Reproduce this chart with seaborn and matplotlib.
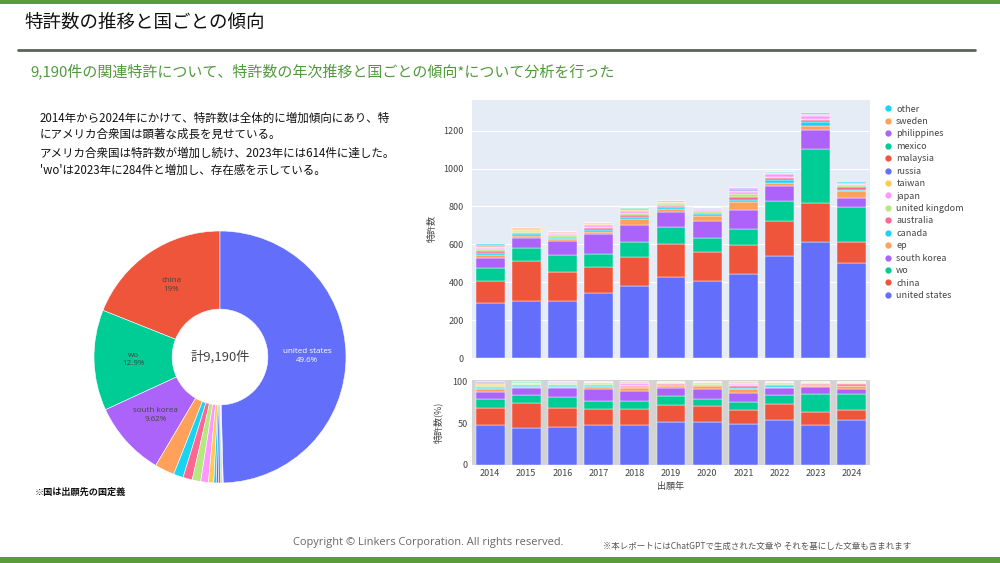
import numpy as np
import pandas as pd
import seaborn as sns
import matplotlib.pyplot as plt
from matplotlib.lines import Line2D
from matplotlib.patches import Rectangle

# patent counts per filing year and country
years = [2014, 2015, 2016, 2017, 2018, 2019, 2020, 2021, 2022, 2023, 2024]
united_states = [292, 302, 303, 344, 380, 430, 409, 443, 536, 614, 504]
china = [116, 208, 152, 139, 155, 170, 152, 153, 187, 205, 106]
wo = [67, 69, 87, 64, 76, 91, 71, 83, 108, 284, 186]
south_korea = [55, 53, 74, 107, 92, 78, 93, 104, 76, 101, 51]
ep = [15, 12, 10, 12, 30, 20, 25, 38, 18, 20, 32]
canada = [10, 8, 10, 8, 10, 6, 10, 12, 15, 20, 6]
australia = [8, 6, 5, 10, 12, 8, 6, 18, 8, 10, 18]
united_kingdom = [10, 7, 6, 8, 10, 8, 8, 16, 10, 10, 8]
japan = [6, 7, 5, 8, 12, 6, 6, 10, 12, 12, 6]
taiwan = [5, 4, 8, 8, 5, 4, 8, 6, 4, 8, 3]
russia = [4, 3, 2, 2, 4, 3, 2, 3, 2, 2, 1]
malaysia = [3, 2, 2, 1, 2, 1, 1, 6, 2, 1, 2]
mexico = [2, 1, 1, 1, 2, 1, 1, 2, 2, 0, 1]
philippines = [2, 1, 1, 0, 2, 2, 0, 1, 1, 0, 0]
sweden = [1, 1, 0, 0, 1, 1, 1, 1, 0, 0, 0]
other = [5, 4, 1, 2, 1, 0, 1, 4, 2, 5, 4]

countries = ['united states', 'china', 'wo', 'south korea', 'ep', 'canada',
             'australia', 'united kingdom', 'japan', 'taiwan', 'russia',
             'malaysia', 'mexico', 'philippines', 'sweden', 'other']
series = [united_states, china, wo, south_korea, ep, canada, australia,
          united_kingdom, japan, taiwan, russia, malaysia, mexico,
          philippines, sweden, other]

# plotly default colour cycle
plotly_colors = ['#636EFA', '#EF553B', '#00CC96', '#AB63FA', '#FFA15A',
                 '#19D3F3', '#FF6692', '#B6E880', '#FF97FF', '#FECB52']
color_map = {c: plotly_colors[i % 10] for i, c in enumerate(countries)}

rows = []
for name, vals in zip(countries, series):
    for y, v in zip(years, vals):
        rows.append({'year': y, 'country': name, 'count': v})
df = pd.DataFrame(rows)

sns.set_theme(style='white')
plt.rcParams['font.family'] = ['Noto Sans CJK JP', 'DejaVu Sans']

W, H = 1000, 563
fig = plt.figure(figsize=(10, 5.63), dpi=100)
fig.patch.set_facecolor('white')


def ftext(x, y, s, **kw):
    fig.text(x / W, 1 - y / H, s, **kw)


# green bands and title rule
fig.add_artist(Rectangle((0, 1 - 4 / H), 1, 4 / H, transform=fig.transFigure,
                         color='#5b9b3b', lw=0))
fig.add_artist(Rectangle((0, 0), 1, 6 / H, transform=fig.transFigure,
                         color='#5b9b3b', lw=0))
fig.add_artist(Line2D([18 / W, 975 / W], [1 - 50 / H, 1 - 50 / H],
                      transform=fig.transFigure, color='#5a625a', lw=2))

ftext(24, 23, '特許数の推移と国ごとの傾向', fontsize=13.3, va='center', color='#111')
ftext(30, 71, '9,190件の関連特許について、特許数の年次推移と国ごとの傾向*について分析を行った',
      fontsize=10.8, va='center', color='#4f9a3a')

body = [(118, '2014年から2024年にかけて、特許数は全体的に増加傾向にあり、特'),
        (134, 'にアメリカ合衆国は顕著な成長を見せている。'),
        (153, 'アメリカ合衆国は特許数が増加し続け、2023年には614件に達した。'),
        (170, "'wo'は2023年に284件と増加し、存在感を示している。")]
for y, s in body:
    ftext(40, y, s, fontsize=8.3, va='center', color='#111')

ftext(35, 492, '※国は出願先の国定義', fontsize=6.6, va='center', weight='bold', color='#111')
ftext(293, 543, 'Copyright © Linkers Corporation. All rights reserved.',
      fontsize=7.9, va='center', color='#666', family=['Open Sans', 'DejaVu Sans'])
ftext(603, 546, '※本レポートにはChatGPTで生成された文章や それを基にした文章も含まれます',
      fontsize=6.1, va='center', color='#555')

# stacked bar chart (counts)
stack_order = countries[::-1]
ax1 = fig.add_axes([472 / W, 1 - 358 / H, 398 / W, 258 / H])
sns.histplot(data=df, x='year', weights='count', hue='country', hue_order=stack_order,
             palette=color_map, multiple='stack', discrete=True, shrink=0.8,
             alpha=1, edgecolor='white', linewidth=0.3, legend=False, ax=ax1)
ax1.set_facecolor('#E5ECF6')
ax1.set_xlim(2013.5, 2024.5)
ax1.set_ylim(0, 1362)
ax1.set_yticks(range(0, 1201, 200))
ax1.set_xticks([])
ax1.grid(axis='y', color='white', lw=0.8)
ax1.set_axisbelow(True)
ax1.set_xlabel('')
ax1.set_ylabel('特許数', fontsize=6.5, color='#444', labelpad=5)
ax1.tick_params(axis='y', labelsize=6.5, labelcolor='#444', length=0, pad=6)
for s in ax1.spines.values():
    s.set_visible(False)

# stacked bar chart (share)
ax2 = fig.add_axes([472 / W, 1 - 465 / H, 398 / W, 85 / H])
sns.histplot(data=df, x='year', weights='count', hue='country', hue_order=stack_order,
             palette=color_map, multiple='fill', discrete=True, shrink=0.8,
             alpha=1, edgecolor='white', linewidth=0.3, legend=False, ax=ax2)
ax2.set_facecolor('#d3d3d3')
ax2.set_xlim(2013.5, 2024.5)
ax2.set_ylim(0, 1.02)
ax2.set_yticks([0, 0.5, 1.0])
ax2.set_yticklabels(['0', '50', '100'])
ax2.set_xticks(years)
ax2.set_xticklabels([str(y) for y in years])
ax2.set_xlabel('出願年', fontsize=6.5, color='#444', labelpad=3)
ax2.set_ylabel('特許数(%)', fontsize=6.5, color='#444', labelpad=7)
ax2.tick_params(labelsize=6.5, labelcolor='#444', length=0, pad=3)
for s in ax2.spines.values():
    s.set_visible(False)

# legend
handles = [Line2D([], [], marker='o', ls='', color=color_map[c], markersize=3.5, label=c)
           for c in stack_order]
fig.legend(handles=handles, loc='upper left', bbox_to_anchor=(880 / W, 1 - 101 / H),
           frameon=False, fontsize=6.5, labelcolor='#444', handletextpad=0.4,
           labelspacing=0.38, borderaxespad=0, handlelength=1.0)

# donut chart: counter-clockwise from 12 o'clock, largest country last
totals = df.groupby('country')['count'].sum().sort_values(ascending=False)
pie_order = list(totals.index[1:]) + [totals.index[0]]
pie_vals = totals.loc[pie_order]
total = int(pie_vals.sum())
axp = fig.add_axes([94 / W, 1 - 483 / H, 252 / W, 252 / H])
wedges, _ = axp.pie(pie_vals.values, colors=[color_map[c] for c in pie_order],
                    startangle=90, counterclock=True,
                    wedgeprops=dict(width=0.62, edgecolor='white', linewidth=0.4))
axp.set_xlim(-1, 1)
axp.set_ylim(-1, 1)
for w, name, val in zip(wedges, pie_order, pie_vals.values):
    pct = val / total * 100
    if pct < 5:
        continue
    ang = np.deg2rad((w.theta1 + w.theta2) / 2)
    tc = 'white' if name == 'united states' else '#444'
    axp.text(0.69 * np.cos(ang), 0.69 * np.sin(ang), f'{name}\n{pct:.3g}%',
             ha='center', va='center', fontsize=5.8, color=tc,
             family=['Open Sans', 'DejaVu Sans'], linespacing=1.3)
axp.text(0, 0, f'計{total:,}件', ha='center', va='center', fontsize=9.5, color='#444')

fig.savefig('out.png', dpi=100)
